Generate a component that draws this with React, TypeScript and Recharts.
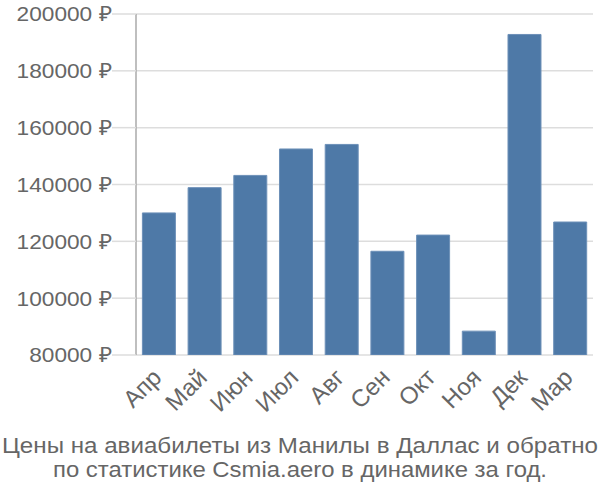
import React from 'react';
import { BarChart, Bar, XAxis, YAxis, CartesianGrid } from 'recharts';

const months = ['Апр', 'Май', 'Июн', 'Июл', 'Авг', 'Сен', 'Окт', 'Ноя', 'Дек', 'Мар'];
const prices = [130000, 138900, 143200, 152500, 154100, 116500, 122200, 88400, 192800, 126800];
const yTicks = [80000, 100000, 120000, 140000, 160000, 180000, 200000];
const gridTicks = [0, 1, 2, 3, 4, 5, 6, 7, 8, 9, 10];
const titleLines = [
  'Цены на авиабилеты из Манилы в Даллас и обратно',
  'по статистике Csmia.aero в динамике за год.',
];
const titleWidths = [596, 494];

const FONT = "'Liberation Sans', Arial, sans-serif";
const TEXT = '#666666';
const SY = 1.08;

const data = months.map((m, i) => ({ month: m, price: prices[i], idx: i + 0.5 }));

const XTick = (props: any) => {
  const { x, y, payload } = props;
  const ax = x + 4;
  const ay = y + 24;
  return (
    <text
      x={0}
      y={0}
      transform={`translate(${ax}, ${ay}) rotate(-45)`}
      textAnchor="end"
      fill={TEXT}
      fontSize={24}
      fontFamily={FONT}
    >
      {payload.value}
    </text>
  );
};

const YTick = (props: any) => {
  const { x, y, payload } = props;
  return (
    <text
      x={0}
      y={0}
      dy="0.355em"
      transform={`translate(${x}, ${y}) scale(${SY}, 1)`}
      textAnchor="end"
      fill={TEXT}
      fontSize={21}
      fontFamily={FONT}
    >
      {`${payload.value} ₽`}
    </text>
  );
};

export default function App() {
  return (
    <div style={{ position: 'absolute', left: 0, top: 0, width: 600, height: 500 }}>
      <BarChart
        width={600}
        height={500}
        data={data}
        margin={{ top: 14, right: 7, bottom: 143, left: 0 }}
        barCategoryGap="14%"
      >
        <CartesianGrid
          xAxisId="grid"
          stroke="#dddddd"
          strokeWidth={1.5}
          verticalValues={gridTicks}
        />
        <XAxis
          xAxisId="grid"
          type="number"
          dataKey="idx"
          domain={[0, 10]}
          ticks={gridTicks}
          allowDataOverflow
          height={1}
          tick={false}
          tickLine={{ stroke: '#dddddd', strokeWidth: 1.5 }}
          tickSize={18}
          axisLine={false}
        />
        <XAxis
          xAxisId="cat"
          dataKey="month"
          height={1}
          tickLine={false}
          axisLine={false}
          tickSize={0}
          tickMargin={0}
          interval={0}
          tick={<XTick />}
        />
        <YAxis
          width={136}
          domain={[80000, 200000]}
          ticks={yTicks}
          allowDataOverflow
          tick={<YTick />}
          tickLine={{ stroke: '#dddddd', strokeWidth: 1.5 }}
          tickSize={24}
          tickMargin={0}
          axisLine={{ stroke: '#aaaaaa', strokeWidth: 1.5 }}
        />
        <Bar
          xAxisId="cat"
          dataKey="price"
          fill="#4e79a7"
          stroke="#6d90b8"
          strokeWidth={1}
          isAnimationActive={false}
        />
      </BarChart>
      <svg
        width={600}
        height={70}
        style={{ position: 'absolute', left: 0, top: 430 }}
      >
        {titleLines.map((l, i) => (
          <text
            key={l}
            x={300}
            y={23 + i * 24}
            textAnchor="middle"
            fill={TEXT}
            fontSize={22}
            fontFamily={FONT}
            textLength={titleWidths[i]}
            lengthAdjust="spacingAndGlyphs"
          >
            {l}
          </text>
        ))}
      </svg>
    </div>
  );
}
